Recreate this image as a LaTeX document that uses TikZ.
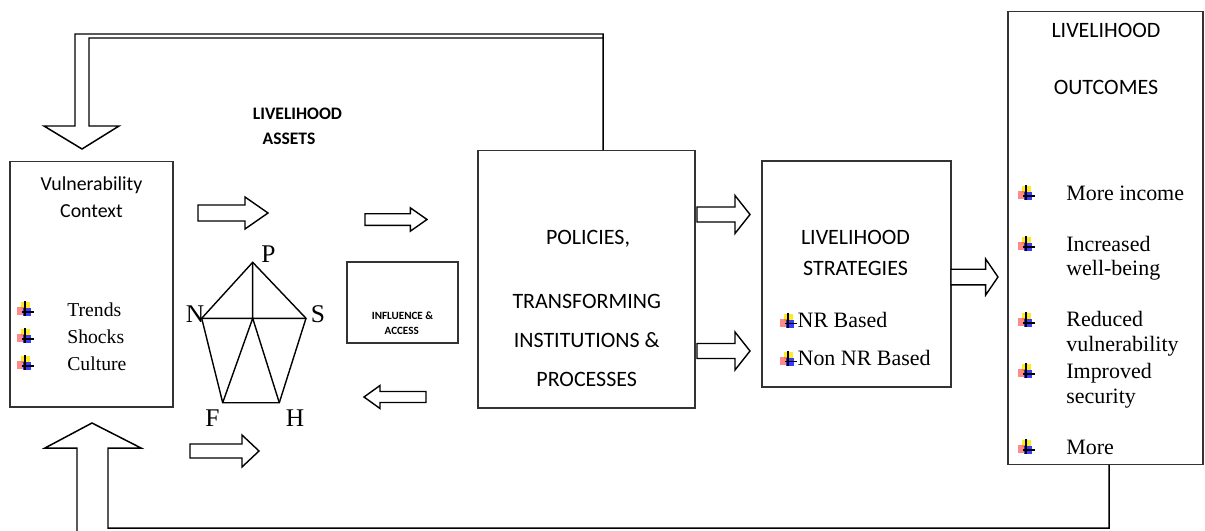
\documentclass[tikz,border=0pt]{standalone}
\usepackage{fontspec}
\setmainfont{Liberation Serif}
\newfontfamily\calibri{Carlito}
\usetikzlibrary{calc}

\begin{document}
\begin{tikzpicture}[x=0.02cm,y=-0.02cm,line join=miter]
  % Styles and colors
  \tikzset{
    box/.style={rectangle,draw=black!80,line width=0.6pt,inner sep=0pt,outer sep=0pt},
    fat/.style={draw=black,line width=0.8pt,fill=white},
    feed/.style={draw=black,line width=0.85pt},
    edge/.style={line width=0.8pt},
    head/.style={font=\calibri\fontsize{12.5}{15}\selectfont,anchor=base,inner sep=0pt},
    item/.style={font=\fontsize{12.5}{15}\selectfont,anchor=base west,inner sep=0pt},
    corner/.style={font=\fontsize{14.5}{17}\selectfont,anchor=base,inner sep=0pt},
    pics/fatarrow/.style n args={4}{code={
      \draw[fat] (0,-#2) -- (#1-#4,-#2) -- (#1-#4,-#3) -- (#1,0)
        -- (#1-#4,#3) -- (#1-#4,#2) -- (0,#2) -- cycle;
    }},
    pics/tick/.style={code={
      \fill[yellow!90!orange,opacity=0.85] (-4,-7) rectangle (5,0);
      \fill[red!70,opacity=0.65] (-8,-2) rectangle (0,6);
      \fill[blue!90,opacity=0.85] (-2,-1) rectangle (6,7);
      \draw[line width=0.9pt] (0,-8) -- (0,7) (-3,3) -- (9,3);
    }}
  }
  \useasboundingbox (0,0) rectangle (1205,531);

  % Boxes
  \node[box,minimum width=3.26cm,minimum height=4.92cm] (vul) at (91.5,284) {};
  \node[box,minimum width=4.34cm,minimum height=5.16cm] (pol) at (586.5,279) {};
  \node[box,minimum width=2.22cm,minimum height=1.62cm] (inf) at (402.5,302.5) {};
  \node[box,minimum width=3.78cm,minimum height=4.52cm] (strat) at (856.5,274) {};
  \node[box,minimum width=3.9cm,minimum height=9.08cm] (outc) at (1105.5,238) {};

  % Vulnerability context
  \node[head,font=\calibri\fontsize{11.3}{14}\selectfont] (vul1) at (91.5,190) {Vulnerability};
  \node[head,font=\calibri\fontsize{11.3}{14}\selectfont] (vul2) at (91.5,217) {Context};
  \node[item,font=\fontsize{11.2}{14}\selectfont] (trends) at (67,316) {Trends};
  \node[item,font=\fontsize{11.2}{14}\selectfont] (shocks) at (67,343) {Shocks};
  \node[item,font=\fontsize{11.2}{14}\selectfont] (culture) at (67,370) {Culture};
  \pic at (25,309) {tick};
  \pic at (25,336) {tick};
  \pic at (25,363) {tick};

  % Livelihood assets
  \node[head,font=\calibri\bfseries\fontsize{10}{12}\selectfont] (as1) at (297.5,119.3) {LIVELIHOOD};
  \node[head,font=\calibri\bfseries\fontsize{10}{12}\selectfont] (as2) at (289,144) {ASSETS};
  \coordinate (P) at (252.7,262.3);
  \coordinate (N) at (201.7,318.3);
  \coordinate (S) at (306,318.3);
  \coordinate (C) at (252.7,318.3);
  \coordinate (F) at (222.7,402.7);
  \coordinate (H) at (279.3,402.7);
  \draw[edge] (P) -- (N) -- (F) -- (H) -- (S) -- cycle;
  \draw[edge] (N) -- (S) (P) -- (C) -- (F) (C) -- (H);
  \node[corner] (lp) at (268.5,262) {P};
  \node[corner] (ln) at (195,322) {N};
  \node[corner] (ls) at (318,322) {S};
  \node[corner] (lf) at (212.5,426) {F};
  \node[corner] (lh) at (295,426) {H};

  % Influence and access
  \node[head,font=\calibri\bfseries\fontsize{6.3}{8}\selectfont] (inf1) at (402.5,319.3) {INFLUENCE \&};
  \node[head,font=\calibri\bfseries\fontsize{6.3}{8}\selectfont] (inf2) at (401.7,334) {ACCESS};

  % Policies
  \node[head] (pol1) at (588,244) {POLICIES,};
  \node[head] (pol2) at (586.7,308) {TRANSFORMING};
  \node[head] (pol3) at (586.7,347.3) {INSTITUTIONS \&};
  \node[head] (pol4) at (586.7,386.7) {PROCESSES};

  % Strategies
  \node[head] (st1) at (855.5,244.3) {LIVELIHOOD};
  \node[head] (st2) at (855.5,275) {STRATEGIES};
  \node[item] (nr) at (797.3,327.7) {NR Based};
  \node[item] (nonnr) at (797.3,365.7) {Non NR Based};
  \pic at (788,320.7) {tick};
  \pic at (788,358.7) {tick};

  % Outcomes
  \node[head] (oc1) at (1106,37.7) {LIVELIHOOD};
  \node[head] (oc2) at (1106,94) {OUTCOMES};
  \node[item] (o1) at (1066,200) {More income};
  \node[item] (o2) at (1066,251) {Increased};
  \node[item] (o2b) at (1066,275) {well-being};
  \node[item] (o3) at (1066,326.7) {Reduced};
  \node[item] (o3b) at (1066,351.7) {vulnerability};
  \node[item] (o4) at (1066,378.3) {Improved};
  \node[item] (o4b) at (1066,403.3) {security};
  \node[item] (o5) at (1066,454) {More};
  \pic at (1026,193) {tick};
  \pic at (1026,244) {tick};
  \pic at (1026,320) {tick};
  \pic at (1026,371) {tick};
  \pic at (1026,447) {tick};

  % Block arrows
  \pic at (198,213) {fatarrow={70}{8}{16}{23}};
  \pic at (365,219.5) {fatarrow={62}{5.8}{11.7}{16.7}};
  \pic[rotate=180] at (426,397) {fatarrow={62}{5.5}{11.5}{16}};
  \pic at (190,451) {fatarrow={69}{7}{16}{17}};
  \pic at (697,214.5) {fatarrow={53}{7.5}{19}{15}};
  \pic at (697,351) {fatarrow={53}{7.5}{19}{15}};
  \pic at ($(strat.east)+(0,3)$) {fatarrow={47}{7.8}{18}{12.3}};

  % Feedback loops
  \draw[feed] ($(pol.north)+(16.5,0)$) coordinate (t0) |- (75,34) -- (75,126)
    -- (44,126) -- (82,149) -- (119,126) -- (89,126) |- (t0 |- 0,38);
  \draw[feed] ($(outc.south)+(3.5,0)$) |- (108,528) -- (108,448) -- (141,448)
    -- (92,423) -- (45,448) -- (77,448) -- (77,531);
\end{tikzpicture}
\end{document}
